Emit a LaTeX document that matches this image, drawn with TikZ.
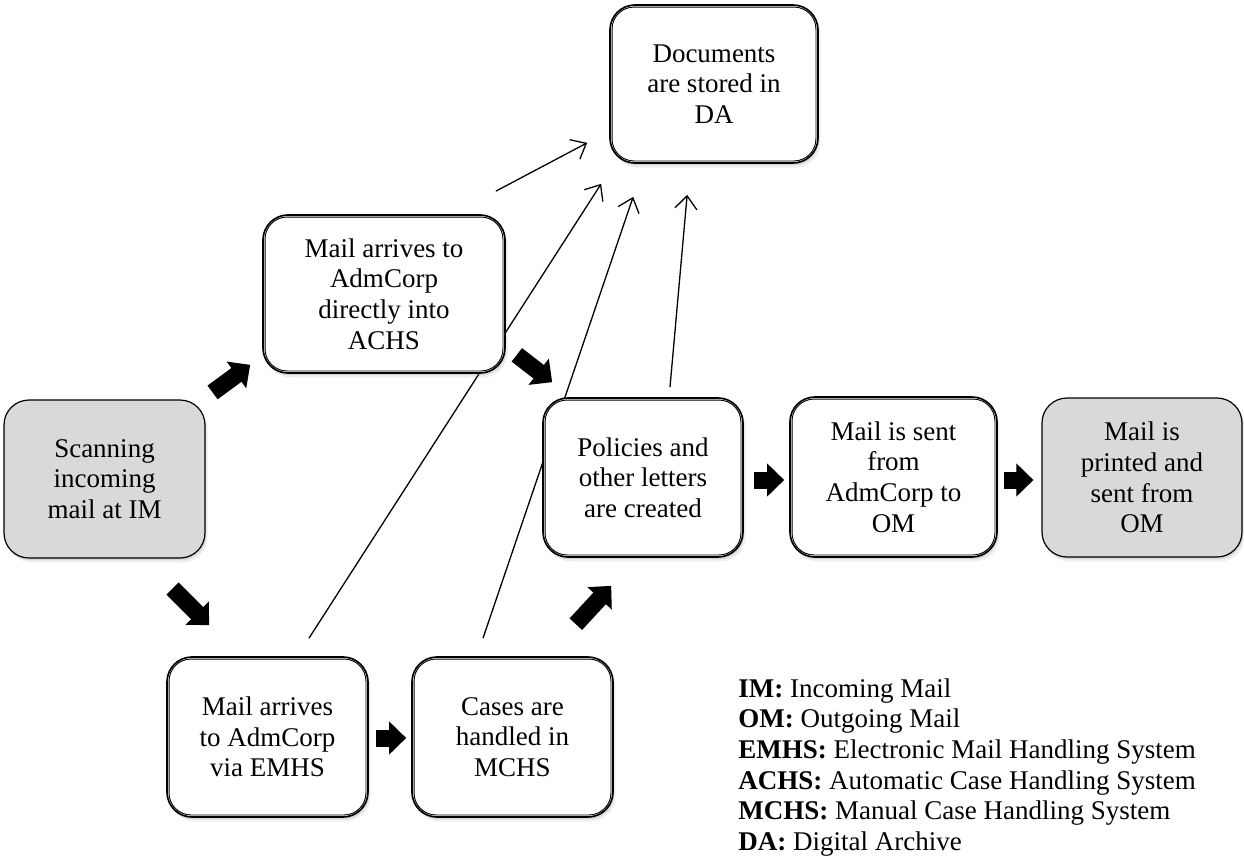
\documentclass[tikz,border=0pt]{standalone}
\usepackage{fontspec}
\setmainfont{Liberation Serif}
\usetikzlibrary{shadows,arrows.meta,calc}
\definecolor{boxgray}{RGB}{217,217,217}
\pgfdeclarelayer{bg}
\pgfsetlayers{bg,main}
\tikzset{
  txt/.style={font=\fontsize{13.5pt}{15.35pt}\selectfont},
  shad/.style={drop shadow={shadow xshift=1.3pt, shadow yshift=-2.3pt, opacity=0.12},
               drop shadow={shadow xshift=0.6pt, shadow yshift=-1.2pt, opacity=0.2}},
  whitebox/.style={txt, rectangle, rounded corners=12.5pt, draw=black, line width=0.85pt,
    fill=white, align=center, inner sep=0pt, shad},
  innerline/.style={line width=0.45pt, rounded corners=11pt},
  graybox/.style={txt, rectangle, rounded corners=12.5pt, draw=black, line width=0.6pt,
    fill=boxgray, align=center, inner sep=0pt, shad},
  thinarrow/.style={line width=0.65pt, -{Straight Barb[length=6.5pt, width=11pt]}},
  blockarrow/.style={line width=8.5pt, -{Triangle[width=16pt, length=8.5pt]}},
  blockshadow/.style={line width=8.5pt, draw=black!15, -{Triangle[width=16pt, length=8.5pt, fill=black!15]}, shift={(2,2.5)}},
}
\begin{document}
\begin{tikzpicture}[x=0.5pt, y=-0.5pt]
\useasboundingbox (0,0) rectangle (1244,859);

% boxes
\node[graybox, minimum width=100.5pt, minimum height=79pt] (scan) at (104.5,479) {Scanning\\incoming\\mail at IM};
\node[whitebox, minimum width=121pt, minimum height=79pt] (achs) at (384,294) {Mail arrives to\\AdmCorp\\directly into\\ACHS};
\node[whitebox, minimum width=104pt, minimum height=79pt] (da) at (714,84) {Documents\\are stored in\\DA};
\node[whitebox, minimum width=100.5pt, minimum height=80pt] (emhs) at (267.5,737) {Mail arrives\\to AdmCorp\\via EMHS};
\node[whitebox, minimum width=100.5pt, minimum height=80pt] (mchs) at (512.5,737) {Cases are\\handled in\\MCHS};
\node[whitebox, minimum width=100pt, minimum height=79.5pt] (pol) at (643,477.5) {Policies and\\other letters\\are created};
\node[whitebox, minimum width=103.5pt, minimum height=80pt] (sent) at (893.5,477) {Mail is sent\\from\\AdmCorp to\\OM};
\node[graybox, minimum width=100pt, minimum height=79.5pt] (print) at (1142,477.5) {Mail is\\printed and\\sent from\\OM};

% inner line of the double borders
\foreach \n in {achs,da,emhs,mchs,pol,sent}{
  \draw[innerline] ([shift={(1.45pt,-1.45pt)}]\n.north west) rectangle ([shift={(-1.45pt,1.45pt)}]\n.south east);
}

% legend
\node[txt, anchor=north west, align=left, inner sep=0pt] (legend) at (738,678)
  {\textbf{IM:} Incoming Mail\\
   \textbf{OM:} Outgoing Mail\\
   \textbf{EMHS:} Electronic Mail Handling System\\
   \textbf{ACHS:} Automatic Case Handling System\\
   \textbf{MCHS:} Manual Case Handling System\\
   \textbf{DA:} Digital Archive};

% thin arrow end points
\coordinate (a1s) at ($(achs.north east)+(-10,-23)$);
\coordinate (a1e) at ($(da.south west)+(-22,-21)$);
\coordinate (a2s) at ($(emhs.north)+(41.5,-18)$);
\coordinate (a2e) at ($(da.south west)+(-8,20)$);
\coordinate (a3s) at ($(mchs.north)+(-29.5,-18)$);
\coordinate (a3e) at ($(da.south west)+(24,33)$);
\coordinate (a4s) at ($(pol.north)+(27,-10)$);
\coordinate (a4e) at ($(da.south west)+(78,31)$);

\begin{pgfonlayer}{bg}
\draw[thinarrow] (a1s) -- (a1e);
\draw[thinarrow] (a2s) -- (a2e);
\draw[thinarrow] (a3s) -- (a3e);
\draw[thinarrow] (a4s) -- (a4e);
\end{pgfonlayer}

% block arrow end points
\coordinate (b1s) at ($(scan.north east)+(7,-7)$);
\coordinate (b1e) at ($(achs.south west)+(-12,-9)$);
\coordinate (b2s) at ($(scan.south east)+(-33,30)$);
\coordinate (b2e) at ($(emhs.north west)+(43,-31)$);
\coordinate (b3s) at ($(achs.south east)+(11,-19)$);
\coordinate (b3e) at ($(pol.north west)+(10,-15)$);
\coordinate (b4s) at ($(mchs.north east)+(-38,-32)$);
\coordinate (b4e) at ($(pol.south west)+(69,28)$);
\coordinate (b5s) at ($(emhs.east)+(7,1)$);
\coordinate (b5e) at ($(mchs.west)+(-5,1)$);
\coordinate (b6s) at ($(pol.east)+(10,2.5)$);
\coordinate (b6e) at ($(sent.west)+(-5,3)$);
\coordinate (b7s) at ($(sent.east)+(6,3)$);
\coordinate (b7e) at ($(print.west)+(-8,2.5)$);

\foreach \s/\e in {b1s/b1e, b2s/b2e, b3s/b3e, b4s/b4e, b5s/b5e, b6s/b6e, b7s/b7e}{
  \draw[blockshadow] (\s) -- (\e);
}
\foreach \s/\e in {b1s/b1e, b2s/b2e, b3s/b3e, b4s/b4e, b5s/b5e, b6s/b6e, b7s/b7e}{
  \draw[blockarrow] (\s) -- (\e);
}
\end{tikzpicture}
\end{document}
